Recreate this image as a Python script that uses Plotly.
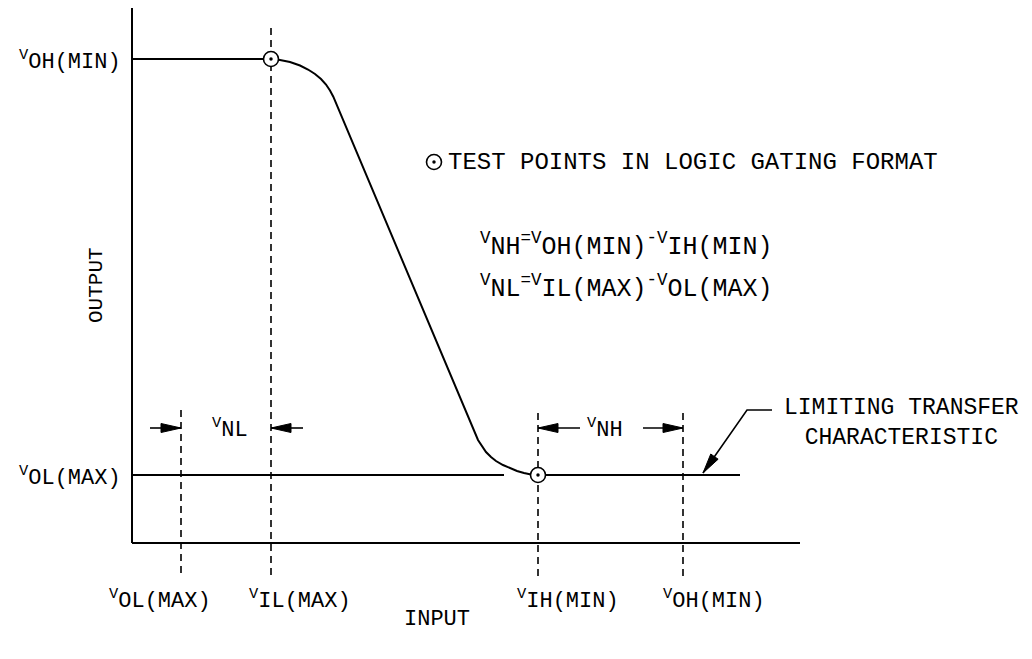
import plotly.graph_objects as go

# ---------------- data (arbitrary input / output units) ----------------
# input threshold levels (x) and their labels
in_levels = [0.49, 1.39, 4.06, 5.51]
in_subs = ["OL(MAX)", "IL(MAX)", "IH(MIN)", "OH(MIN)"]
in_label_x = [-0.25, 1.15, 3.83, 5.29]
in_dash_top = [1.33, 5.15, 1.30, 1.30]
dash_bottom = -0.34

# output levels (y) and their labels
out_levels = [4.84, 0.68]
out_subs = ["OH(MIN)", "OL(MAX)"]

# transfer characteristic
curve_x = [1.397, 1.48, 1.58, 1.68, 1.76, 1.83, 1.89, 1.94, 1.98, 2.013,
           3.46, 3.50, 3.54, 3.59, 3.64, 3.71, 3.78, 3.85, 3.92, 3.99, 4.06]
curve_y = [4.837, 4.83, 4.81, 4.775, 4.735, 4.69, 4.64, 4.585, 4.525, 4.463,
           1.03, 0.965, 0.91, 0.86, 0.82, 0.78, 0.75, 0.72, 0.70, 0.685, 0.68]

# extents of axes and level lines
x_axis_end = 6.68
y_axis_top = 5.35
vol_left_end = 3.72
vol_right_end = 6.08

# test points
test_x = [1.39, 4.06]
test_y = [4.84, 0.68]
legend_pt = (3.02, 3.81)

# noise margin arrows: (tail, tip)
arrow_y = 1.15
vnl_arrows = [(0.18, 0.49), (1.71, 1.39)]
vnh_arrows = [(4.48, 4.06), (5.11, 5.51)]

# leader line to limiting transfer characteristic
leader_x = [6.40, 6.15, 5.71]
leader_y = [1.33, 1.33, 0.70]

FONT = "Liberation Mono"
BLACK = "#000000"

fig = go.Figure()

def line(xs, ys, width=2.0, dash=None, shape="linear"):
    fig.add_trace(go.Scatter(x=xs, y=ys, mode="lines",
                             line=dict(color=BLACK, width=width, dash=dash, shape=shape),
                             hoverinfo="skip", showlegend=False))

def head(tail, tip, length=0.20, half=0.045):
    (tx, ty), (px, py) = tail, tip
    dx, dy = px - tx, py - ty
    n = (dx * dx + dy * dy) ** 0.5
    ux, uy = dx / n, dy / n
    bx, by = px - ux * length, py - uy * length
    nx, ny = -uy, ux
    fig.add_trace(go.Scatter(
        x=[px, bx + nx * half, bx - nx * half, px],
        y=[py, by + ny * half, by - ny * half, py],
        mode="lines", fill="toself", fillcolor=BLACK,
        line=dict(color=BLACK, width=1), hoverinfo="skip", showlegend=False))

# axes
line([0, 0], [0, y_axis_top])
line([0, x_axis_end], [0, 0])

# VOH(MIN) level up to the test point, then the transfer curve
line([0, test_x[0]], [out_levels[0], out_levels[0]])
line(curve_x, curve_y)

# VOL(MAX) level
line([0, vol_left_end], [out_levels[1], out_levels[1]])
line([test_x[1], vol_right_end], [out_levels[1], out_levels[1]])

# dashed threshold lines
for xv, top in zip(in_levels, in_dash_top):
    line([xv, xv], [top, dash_bottom], width=1.6, dash="7px,5px")

# noise margin arrows
for tail, tip in vnl_arrows + vnh_arrows:
    line([tail, tip], [arrow_y, arrow_y], width=1.6)
    head((tail, arrow_y), (tip, arrow_y))

# leader
line(leader_x, leader_y, width=1.6)
head((leader_x[1], leader_y[1]), (leader_x[2], leader_y[2]))

# test points (open circle with a centre dot)
pts_x = test_x + [legend_pt[0]]
pts_y = test_y + [legend_pt[1]]
fig.add_trace(go.Scatter(x=pts_x, y=pts_y, mode="markers",
                         marker=dict(symbol="circle", size=15, color="white",
                                     line=dict(color=BLACK, width=1.6)),
                         hoverinfo="skip", showlegend=False))
fig.add_trace(go.Scatter(x=pts_x, y=pts_y, mode="markers",
                         marker=dict(symbol="circle", size=3.5, color=BLACK),
                         hoverinfo="skip", showlegend=False))

ann = []
def text(x, y, s, size=22, xanchor="left", yanchor="middle", angle=0, align="left"):
    ann.append(dict(x=x, y=y, xref="x", yref="y", text=s, showarrow=False,
                    xanchor=xanchor, yanchor=yanchor, textangle=angle, align=align,
                    font=dict(family=FONT, size=size, color=BLACK)))

# output level labels (left)
for yv, s in zip(out_levels, out_subs):
    text(-0.09, yv - 0.01, "<sup>V</sup>" + s, xanchor="right")

# input level labels (bottom)
for xl, s in zip(in_label_x, in_subs):
    text(xl, -0.56, "<sup>V</sup>" + s)

text(-0.36, 2.58, "OUTPUT", size=21, angle=-90, xanchor="center")
text(3.05, -0.76, "INPUT", xanchor="center")

text(0.98, 1.15, "<sup>V</sup>NL", xanchor="center")
text(4.73, 1.15, "<sup>V</sup>NH", xanchor="center")

text(3.14, 3.81, "TEST POINTS IN LOGIC GATING FORMAT", size=24)
text(3.46, 2.98, "<sup>V</sup>NH<sup>=V</sup>OH(MIN)<sup>-V</sup>IH(MIN)", size=25)
text(3.46, 2.56, "<sup>V</sup>NL<sup>=V</sup>IL(MAX)<sup>-V</sup>OL(MAX)", size=25)

text(6.50, 1.20, "LIMITING TRANSFER<br>CHARACTERISTIC", size=23, align="center")

fig.update_layout(
    width=1032, height=659,
    margin=dict(l=0, r=0, t=0, b=0),
    paper_bgcolor="white", plot_bgcolor="white",
    xaxis=dict(range=[-1.32, 9.00], visible=False, fixedrange=True),
    yaxis=dict(range=[-1.16, 5.43], visible=False, fixedrange=True),
    annotations=ann,
    showlegend=False,
)

fig.write_html("out.html", config={"displayModeBar": False},
               post_script="document.body.style.margin='0';document.body.style.overflow='hidden';")
